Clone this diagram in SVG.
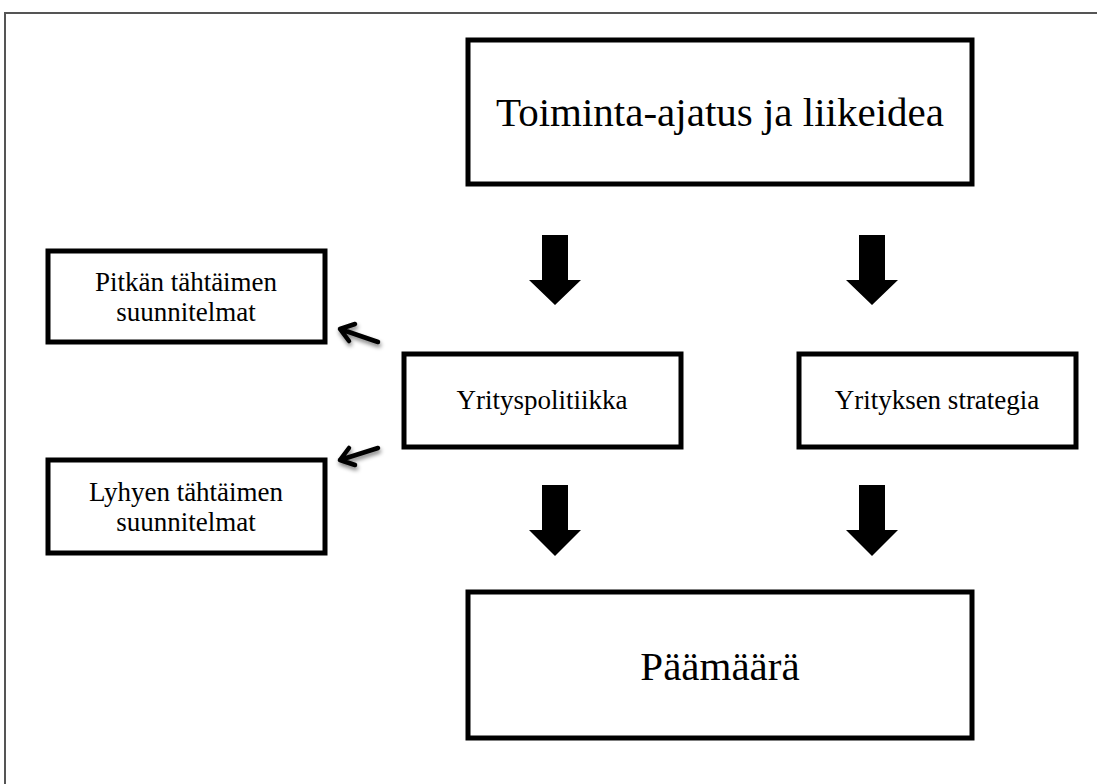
<svg xmlns="http://www.w3.org/2000/svg" width="1097" height="784" viewBox="0 0 1097 784">
  <style>
    .box { fill: #ffffff; stroke: #000000; stroke-width: 5; }
    text { fill: #000; text-anchor: middle; }
    .big { font-size: 41px; }
    .small { font-size: 27px; }
    .block { fill: #000000; }
    .thin { fill: none; stroke: #000; stroke-width: 4.5; stroke-linecap: round; stroke-linejoin: round; filter: url(#shadow); }
  </style>
  <defs>
    <filter id="shadow" x="-50%" y="-50%" width="200%" height="200%">
      <feGaussianBlur in="SourceAlpha" stdDeviation="2"/>
      <feOffset dx="1" dy="3" result="b"/>
      <feComponentTransfer><feFuncA type="linear" slope="0.5"/></feComponentTransfer>
      <feMerge><feMergeNode/><feMergeNode in="SourceGraphic"/></feMerge>
    </filter>
  </defs>
  <rect width="1097" height="784" fill="#ffffff"/>
  <rect x="5" y="13" width="1200" height="900" fill="none" stroke="#555555" stroke-width="2"/>

  <g id="toiminta" font-family="'Liberation Serif', Tinos, 'Times New Roman', 'DejaVu Serif', serif">
    <rect class="box" x="468" y="40" width="504" height="144"/>
    <text class="big" x="720" y="126">Toiminta-ajatus ja liikeidea</text>
  </g>
  <g id="pitkan" font-family="'Liberation Serif', Tinos, 'Times New Roman', 'DejaVu Serif', serif">
    <rect class="box" x="48" y="251" width="277" height="91"/>
    <text class="small" x="186" y="291">Pitkän tähtäimen</text>
    <text class="small" x="186" y="321">suunnitelmat</text>
  </g>
  <g id="yrityspolitiikka" font-family="'Liberation Serif', Tinos, 'Times New Roman', 'DejaVu Serif', serif">
    <rect class="box" x="404" y="354" width="277" height="93"/>
    <text class="small" x="542" y="409">Yrityspolitiikka</text>
  </g>
  <g id="strategia" font-family="'Liberation Serif', Tinos, 'Times New Roman', 'DejaVu Serif', serif">
    <rect class="box" x="799" y="354" width="277" height="93"/>
    <text class="small" x="937" y="409">Yrityksen strategia</text>
  </g>
  <g id="lyhyen" font-family="'Liberation Serif', Tinos, 'Times New Roman', 'DejaVu Serif', serif">
    <rect class="box" x="48" y="460" width="277" height="93"/>
    <text class="small" x="186" y="501">Lyhyen tähtäimen</text>
    <text class="small" x="186" y="531">suunnitelmat</text>
  </g>
  <g id="paamaara" font-family="'Liberation Serif', Tinos, 'Times New Roman', 'DejaVu Serif', serif">
    <rect class="box" x="468" y="592" width="504" height="146"/>
    <text class="big" x="720" y="680">Päämäärä</text>
  </g>

  <g id="connectors">
    <polygon class="block" points="542,235 568,235 568,280 581,280 555,305 529,280 542,280"/>
    <polygon class="block" points="859,235 885,235 885,280 898,280 872,305 846,280 859,280"/>
    <polygon class="block" points="542,485 568,485 568,530 581,530 555,556 529,530 542,530"/>
    <polygon class="block" points="859,485 885,485 885,530 898,530 872,556 846,530 859,530"/>
    <g class="thin">
      <path d="M378,342 L340,329 M355,324 L340,329 L349,341"/>
      <path d="M378,448 L340,460 M349,448 L340,460 L355,465"/>
    </g>
  </g>
</svg>
